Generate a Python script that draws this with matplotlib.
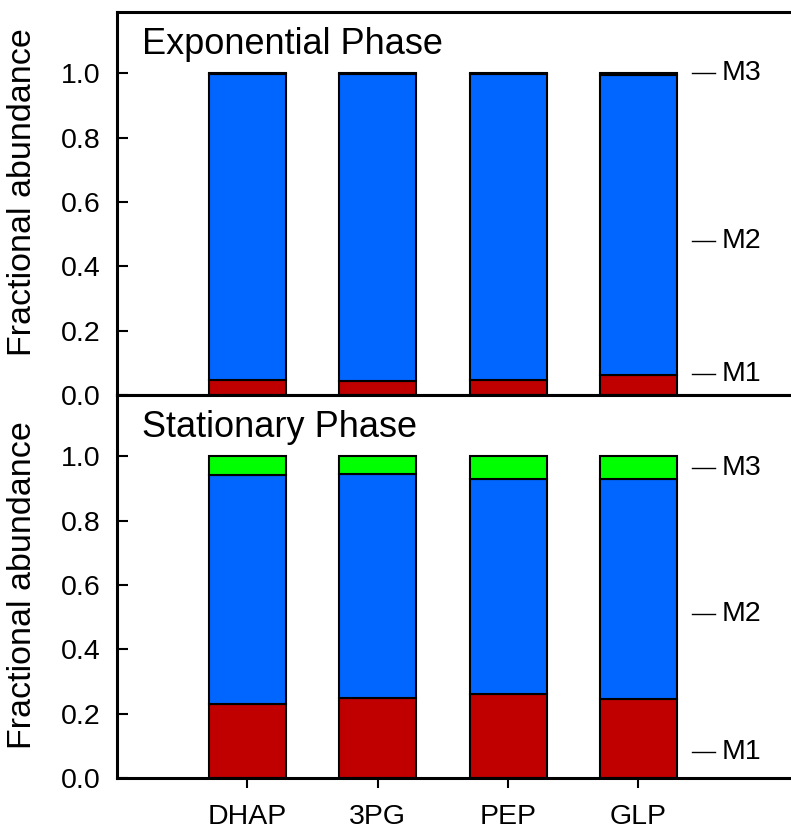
import numpy as np
import matplotlib
matplotlib.use('Agg')
import matplotlib.pyplot as plt
import matplotlib.transforms as mtransforms

plt.rcParams['font.family'] = ['Liberation Sans', 'DejaVu Sans']

metabolites = ['DHAP', '3PG', 'PEP', 'GLP']

# exponential phase fractions
exp_m1 = [0.048, 0.045, 0.048, 0.063]
exp_m3 = [0.001, 0.001, 0.003, 0.005]
exp_m2 = [1 - a - b for a, b in zip(exp_m1, exp_m3)]

# stationary phase fractions
stat_m1 = [0.230, 0.250, 0.260, 0.245]
stat_m3 = [0.058, 0.055, 0.070, 0.070]
stat_m2 = [1 - a - b for a, b in zip(stat_m1, stat_m3)]

iso_names = ['M1', 'M2', 'M3']
exp_label_y = [0.065, 0.478, 1.0]
stat_label_y = [0.081, 0.509, 0.963]

colors = ['#C00000', '#0066FF', '#00FF00']
yticks = [0.0, 0.2, 0.4, 0.6, 0.8, 1.0]


def draw_panel(ax, m1, m2, m3, title, label_y, ylab_pos):
    x = np.arange(len(metabolites))
    bottom = np.zeros(len(x))
    for vals, c in zip([m1, m2, m3], colors):
        ax.bar(x, vals, width=0.59, bottom=bottom, color=c,
               edgecolor='black', linewidth=1.5, zorder=2)
        bottom = bottom + np.array(vals)
    ax.set_xlim(-1.0, 4.17)
    ax.set_ylim(0, 1.19)
    ax.set_yticks(yticks)
    ax.set_yticklabels(['%.1f' % t for t in yticks])
    ax.tick_params(axis='y', direction='in', length=8, width=1.5,
                   labelsize=20.5, pad=12)
    ax.set_ylabel('Fractional abundance', fontsize=24.5)
    ax.yaxis.set_label_coords(-0.118, ylab_pos)
    ax.spines['right'].set_visible(False)
    for s in ['left', 'top', 'bottom']:
        ax.spines[s].set_linewidth(2.2)
    ax.text(0.037, 0.89, title, transform=ax.transAxes, fontsize=26,
            va='baseline', ha='left')
    trans = mtransforms.blended_transform_factory(ax.transAxes, ax.transData)
    for name, yv in zip(iso_names, label_y):
        ax.plot([0.853, 0.887], [yv, yv], color='black', linewidth=1.0,
                transform=trans, clip_on=False)
        ax.text(0.897, yv, name, transform=trans, fontsize=20.5,
                va='center', ha='left')


fig = plt.figure(figsize=(7.91, 8.3), dpi=100)
ax1 = fig.add_axes([0.148, 0.524, 0.852, 0.4615])
ax2 = fig.add_axes([0.148, 0.0627, 0.852, 0.4613])

draw_panel(ax1, exp_m1, exp_m2, exp_m3, 'Exponential Phase', exp_label_y, 0.53)
ax1.set_xticks([])

draw_panel(ax2, stat_m1, stat_m2, stat_m3, 'Stationary Phase', stat_label_y, 0.504)
ax2.set_xticks(np.arange(len(metabolites)))
ax2.set_xticklabels(metabolites)
ax2.tick_params(axis='x', direction='out', length=7, width=1.5,
                labelsize=20.5, pad=12)

fig.savefig('out.png', dpi=100)
